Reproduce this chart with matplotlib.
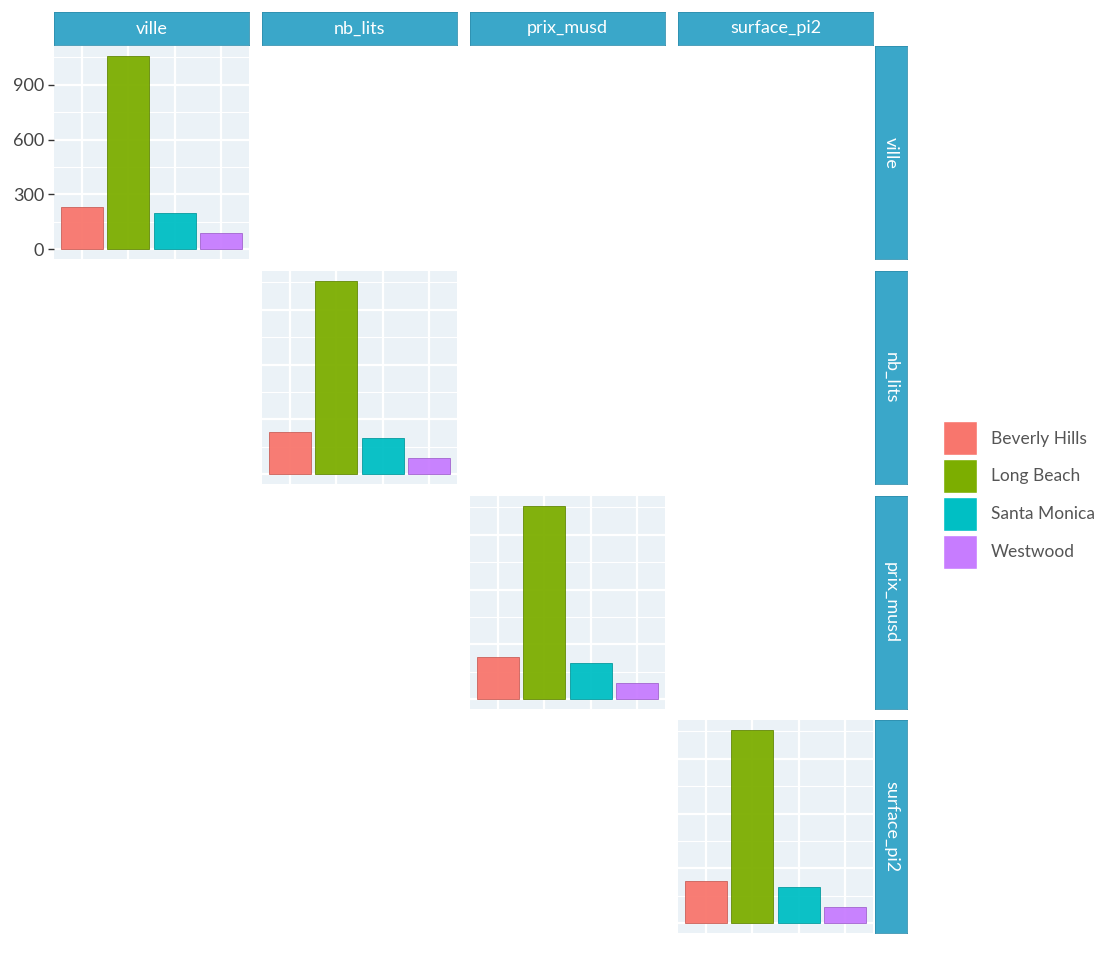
import matplotlib
matplotlib.use('Agg')
import matplotlib.pyplot as plt
from matplotlib.patches import Patch

# counts of listings per city (identical on every diagonal panel)
villes = ['Beverly Hills', 'Long Beach', 'Santa Monica', 'Westwood']
comptes = [230, 1059, 201, 90]
couleurs = ['#F8766D', '#7CAE00', '#00BFC4', '#C77CFF']
bords = ['#C85C55', '#5E8500', '#00979B', '#9E60CC']
variables = ['ville', 'nb_lits', 'prix_musd', 'surface_pi2']
yticks = [0, 300, 600, 900]

plt.rcParams['font.family'] = ['Lato', 'DejaVu Sans']

W, H = 1120, 960
fig = plt.figure(figsize=(W / 100, H / 100), dpi=100)
fig.patch.set_facecolor('white')

col_x = [54, 262, 470, 678]
row_y = [46, 271, 496, 720]
pw, ph = 195, 213
strip_col = '#3AA7C9'
strip_edge = '#2F8FAE'
bg = '#EBF2F7'


def fr(x, y, w, h):
    return [x / W, 1 - (y + h) / H, w / W, h / H]


# top strips
for j, v in enumerate(variables):
    ax = fig.add_axes(fr(col_x[j], 12, pw, 33))
    ax.set_facecolor(strip_col)
    for s in ax.spines.values():
        s.set_color(strip_edge); s.set_linewidth(0.6)
    ax.set_xticks([]); ax.set_yticks([])
    ax.text(0.5, 0.5, v, color='white', fontsize=13, ha='center',
            va='center', transform=ax.transAxes)

# right strips
for i, v in enumerate(variables):
    ax = fig.add_axes(fr(875, row_y[i], 32, ph))
    ax.set_facecolor(strip_col)
    for s in ax.spines.values():
        s.set_color(strip_edge); s.set_linewidth(0.6)
    ax.set_xticks([]); ax.set_yticks([])
    ax.text(0.5, 0.5, v, color='white', fontsize=13, ha='center',
            va='center', rotation=270, transform=ax.transAxes)

# diagonal bar panels
ymax = max(comptes)
pos = list(range(1, len(villes) + 1))
for i, v in enumerate(variables):
    ax = fig.add_axes(fr(col_x[i], row_y[i], pw, ph))
    ax.set_facecolor(bg)
    ax.set_axisbelow(True)
    ax.set_xlim(0.4, 4.6)
    ax.set_ylim(-0.05 * ymax, 1.05 * ymax)
    ax.set_yticks(yticks)
    ax.set_yticks([150, 450, 750, 1050], minor=True)
    ax.set_xticks(pos)
    ax.grid(True, which='major', color='white', linewidth=1.6)
    ax.grid(True, which='minor', axis='y', color='white', linewidth=0.8)
    ax.bar(pos, comptes, width=0.9, color=couleurs, edgecolor=bords,
           linewidth=0.6, alpha=0.95)
    for s in ax.spines.values():
        s.set_visible(False)
    ax.tick_params(axis='x', length=0, labelbottom=False)
    ax.tick_params(axis='y', which='minor', length=0)
    if i == 0:
        ax.tick_params(axis='y', which='major', length=4, width=1,
                       color='#333333', labelsize=13, labelcolor='#444444',
                       pad=3)
    else:
        ax.tick_params(axis='y', which='major', length=0, labelleft=False)

handles = [Patch(facecolor=c, edgecolor='white', linewidth=1.0, label=n)
           for c, n in zip(couleurs, villes)]
leg = fig.legend(handles=handles, loc='upper left',
                 bbox_to_anchor=(938 / W, 1 - 416 / H), frameon=False,
                 fontsize=12.5, handlelength=1.95, handleheight=2.65,
                 labelspacing=0.22, handletextpad=0.8, borderpad=0.3,
                 borderaxespad=0)
for t in leg.get_texts():
    t.set_color('#555555')

fig.savefig('out.png', dpi=100)
